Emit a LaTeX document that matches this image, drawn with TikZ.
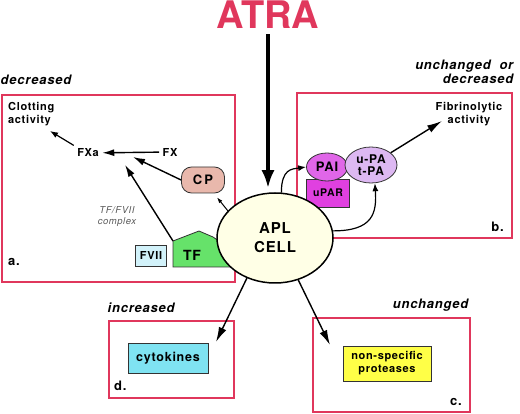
\documentclass[tikz,border=0pt]{standalone}
\usepackage{fontspec}
\setmainfont{TeX Gyre Heros}[LetterSpace=6]
\newfontfamily\atrafont{TeX Gyre Heros}
\usetikzlibrary{arrows.meta,shapes.geometric}
\definecolor{panelred}{HTML}{E0375C}
\definecolor{cpfill}{HTML}{E9B8AC}
\definecolor{fviifill}{HTML}{D2F2FA}
\definecolor{tfgreen}{HTML}{66E26A}
\definecolor{cellfill}{HTML}{FFFFE6}
\definecolor{paifill}{HTML}{E066E8}
\definecolor{uparfill}{HTML}{E040E0}
\definecolor{upafill}{HTML}{DDB8F2}
\definecolor{cytofill}{HTML}{7FE3F2}
\definecolor{protfill}{HTML}{FFFF47}

\begin{document}
\begin{tikzpicture}[x=1pt, y=-1pt, font=\bfseries\fontsize{11}{13}\selectfont,
  panel/.style={draw=panelred, line width=2pt},
  heading/.style={font=\bfseries\itshape\fontsize{13}{14}\selectfont, inner sep=0.5pt},
  lbl/.style={inner sep=1pt},
  tag/.style={inner sep=1pt, font=\bfseries\fontsize{13}{14}\selectfont},
  item/.style={draw=black!80, line width=0.8pt},
  conn/.style={draw, line width=1.4pt, -{Latex[length=12pt,width=7pt]}},
  bigconn/.style={draw, line width=1.4pt, -{Latex[length=15pt,width=8pt]}},
  smallconn/.style={draw, line width=1.2pt, -{Latex[length=8pt,width=6pt]}}]
	\useasboundingbox (0,0) rectangle (520,414);
	\draw[panel] (2,95) rectangle (235,282);
	\draw[panel] (297,93) rectangle (512,238);
	\draw[panel] (109,321) rectangle (234,398);
	\draw[panel] (313,318) rectangle (470,412);
	\node[text=panelred, font=\atrafont\bfseries\fontsize{38}{40}\selectfont, inner sep=2pt] (atra) at (268,15) {ATRA};
	\node[heading, anchor=west] (hda) at (0,80) {decreased};
	\node[heading, anchor=east, align=right] (hdb) at (514,72) {unchanged\ \ or\\decreased};
	\node[heading, anchor=west] (hdd) at (107,308) {increased};
	\node[heading, anchor=east] (hdc) at (469,305) {unchanged};
	\node[tag, anchor=west] (la) at (7,262) {a.};
	\node[tag, anchor=east] (lb) at (505,227) {b.};
	\node[tag, anchor=east] (lc) at (463,402) {c.};
	\node[tag, anchor=west] (ld) at (113,386) {d.};
	\node[lbl, anchor=west, align=left] (clot) at (7,114) {Clotting\\activity};
	\node (fxa) at (88,153) {FXa};
	\node (fx) at (170,152) {FX};
	\coordinate (join) at (133,157);
	\coordinate (tfjoin) at (125,165);
	\coordinate (clottip) at (50,131);
	\node[lbl, align=center, text=black!65, font=\mdseries\itshape\fontsize{9.5}{11}\selectfont] (cplx) at (117,217) {TF/FVII\\complex};
	\node[item, fill=cpfill, rounded corners=10pt, minimum width=43pt, minimum height=26pt, font=\bfseries\fontsize{13}{14}\selectfont] (cp) at (203,180) {C\,P};
	\node[item, fill=fviifill, minimum width=31pt, minimum height=21pt, inner sep=0pt] (fvii) at (151,255.5) {FVII};
	\draw[item, fill=tfgreen] (173,267) -- (173,241) coordinate (tfcorner) -- (199,231) -- (213,237) -- (232,250) -- (232,267) -- cycle;
	\node[font=\bfseries\fontsize{14}{15}\selectfont] (tf) at (192,255) {TF};
	\node[lbl, align=center] (fib) at (469,114) {Fibrinolytic\\activity};
	\coordinate (btip) at (442,121);
	\node[item, fill=uparfill, minimum width=43pt, minimum height=28pt, inner sep=0pt, font=\bfseries\fontsize{10.5}{12}\selectfont] (upar) at (328,193) {uPAR};
	\node[item, ellipse, fill=paifill, minimum width=41pt, minimum height=28pt, inner sep=0pt, font=\bfseries\fontsize{13}{14}\selectfont] (pai) at (327,167) {PAI};
	\node[item, ellipse, fill=upafill, minimum width=52pt, minimum height=36pt, inner sep=0pt, align=center, font=\bfseries\fontsize{12}{12}\selectfont] (upa) at (371,165) {u-PA\\t-PA};
	\node[item, fill=cytofill, minimum width=80pt, minimum height=30pt, font=\bfseries\fontsize{12.5}{14}\selectfont] (cyto) at (168,358) {cytokines};
	\node[item, fill=protfill, minimum width=88pt, minimum height=35pt, align=center] (prot) at (387,363.5) {non-specific\\proteases};
	\coordinate (dtip) at (216,342);
	\coordinate (ctip) at (330,345);
	\node[ellipse, draw, line width=1.5pt, fill=cellfill, minimum width=116pt, minimum height=90pt, inner sep=0pt, align=center, font=\bfseries\fontsize{15}{19}\selectfont] (cell) at (275,238) {APL\\CELL};
	\draw[line width=4.5pt, -{Latex[length=18pt,width=13pt]}, shorten >=4pt, shorten <=3pt] (atra.south) -- (atra.south |- cell.north);
	\draw[conn] (fx) -- (fxa);
	\draw[conn] (cp.west) -- (join);
	\draw[conn] (tfcorner) -- (tfjoin);
	\draw[smallconn] (fxa.north west) -- (clottip);
	\draw[smallconn, line width=1pt, -{Latex[length=6pt,width=4pt]}, shorten >=5pt] (cell.150) -- (cp);
	\draw[smallconn] (cell.82) .. controls +(0,-24) and +(-14,2) .. (pai.west);
	\draw[smallconn] (cell.7) .. controls +(40,0) and +(2,30) .. (upa.282);
	\draw[bigconn] (upa) -- (btip);
	\draw[bigconn] (cell.235) -- (dtip);
	\draw[bigconn] (cell.299) -- (ctip);
\end{tikzpicture}
\end{document}
